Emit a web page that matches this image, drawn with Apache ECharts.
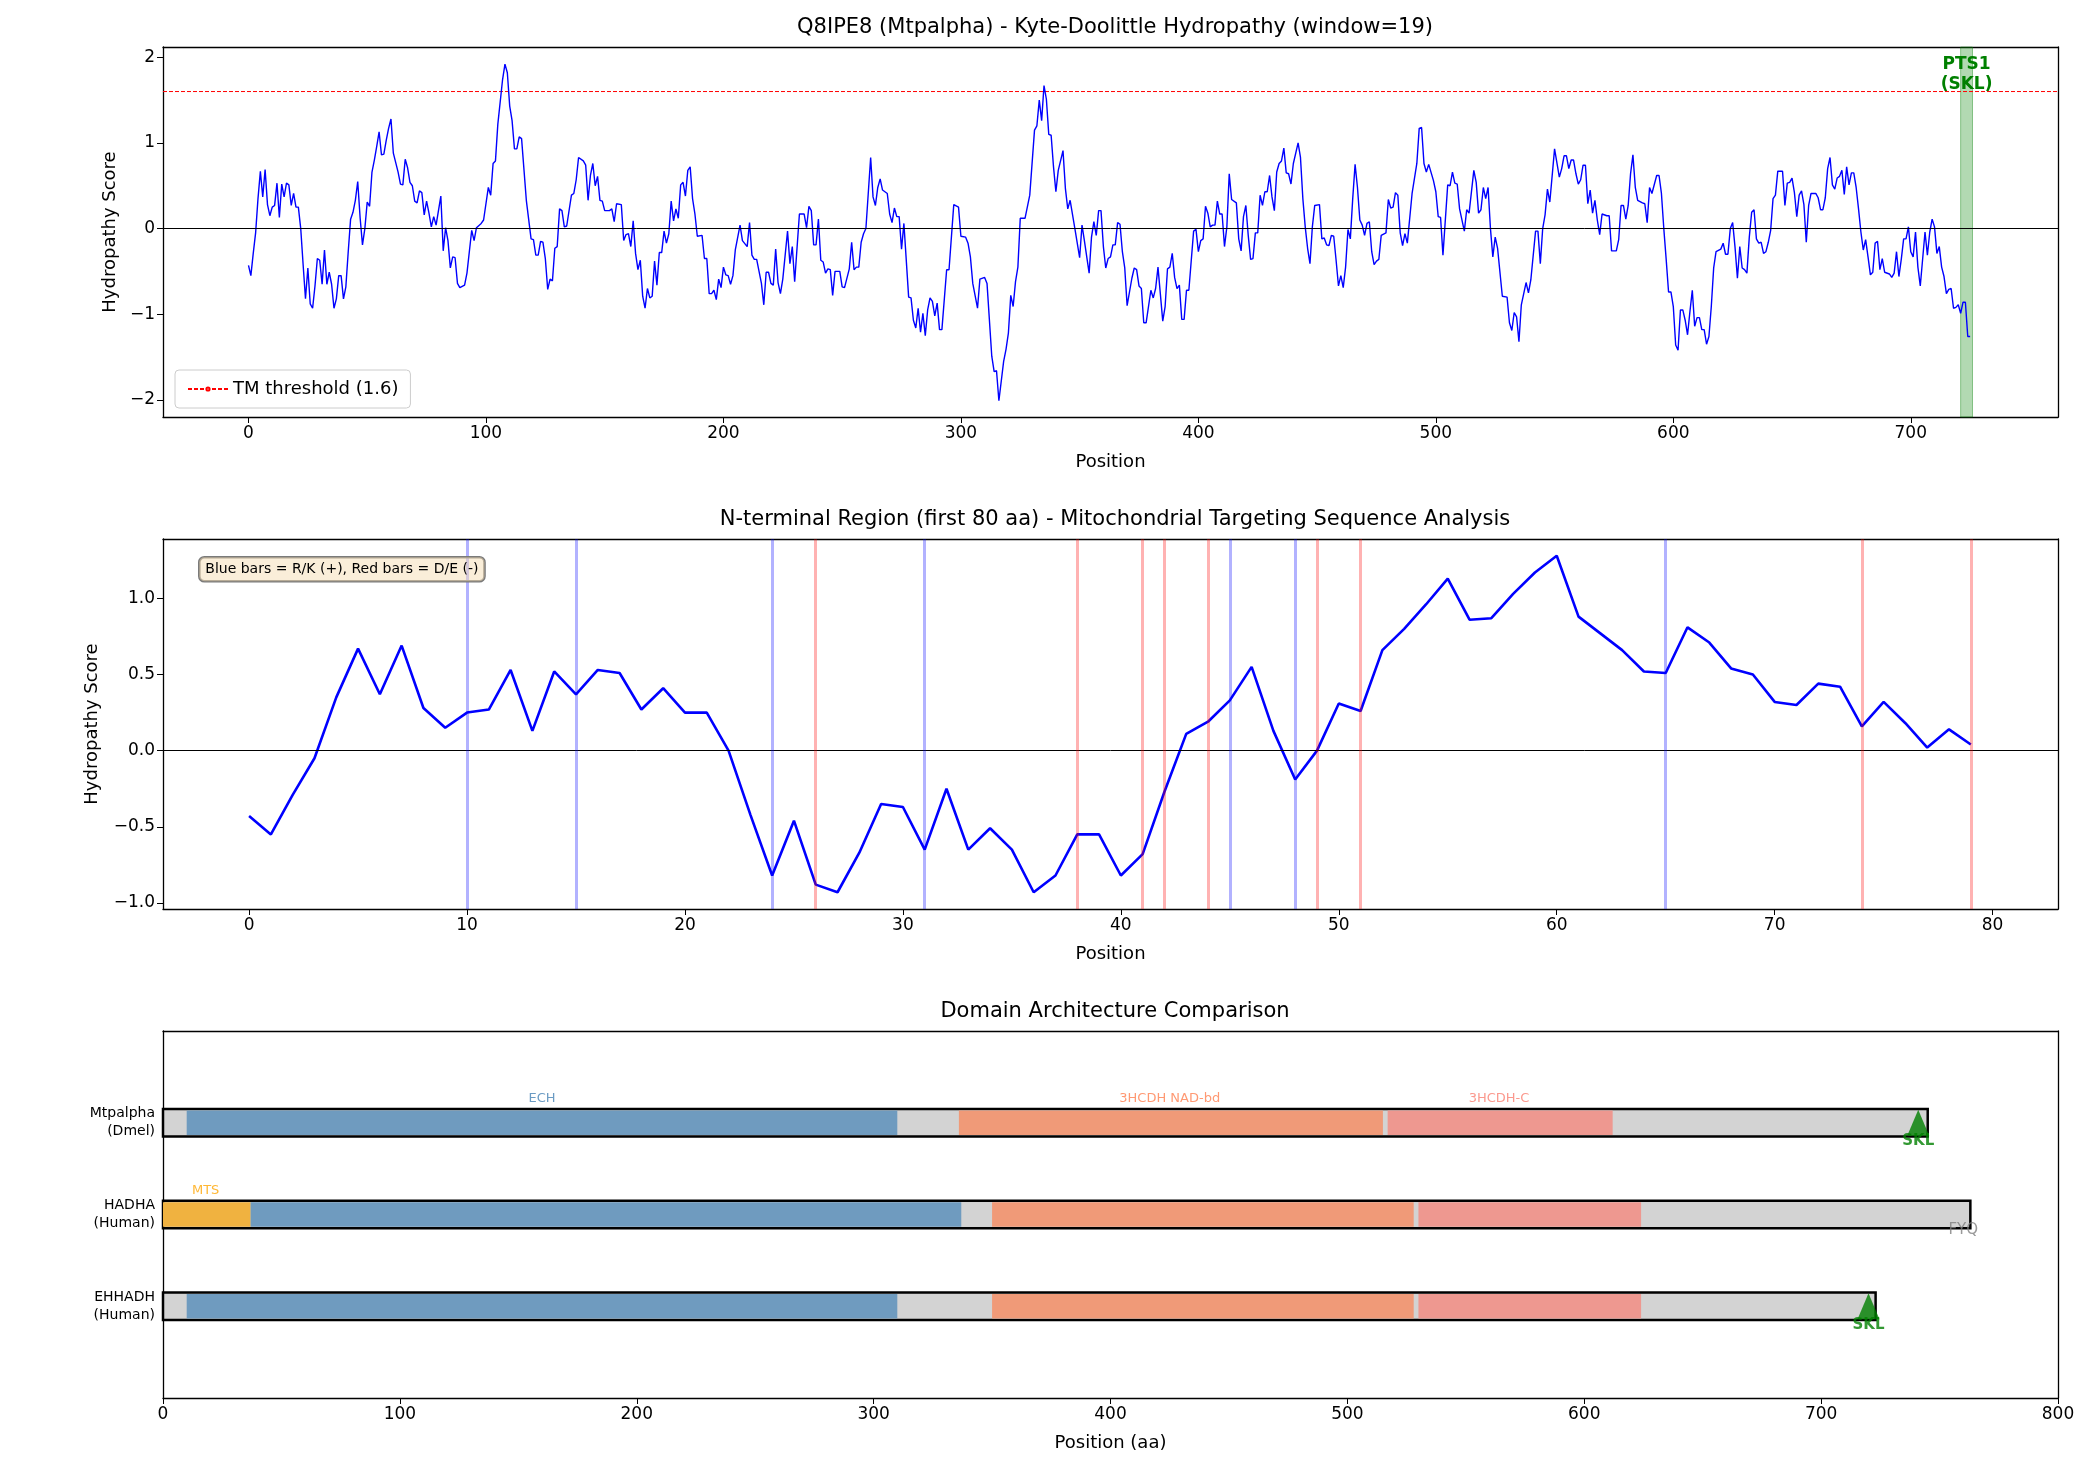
<!DOCTYPE html>
<html>
<head>
<meta charset="utf-8">
<script src="https://cdn.jsdelivr.net/npm/echarts@6/dist/echarts.min.js"></script>
<style>html,body{margin:0;background:#fff}#main{width:2094px;height:1481px}</style>
</head>
<body>
<div id="main"></div>
<script>
// N-terminal 80 aa hydropathy (also start of the full profile)
var ntermVals = [-0.43,-0.55,-0.29,-0.05,0.35,0.67,0.37,0.69,0.28,0.15,
  0.25,0.27,0.53,0.13,0.52,0.37,0.53,0.51,0.27,0.41,
  0.25,0.25,0.00,-0.42,-0.82,-0.46,-0.88,-0.93,-0.67,-0.35,
  -0.37,-0.65,-0.25,-0.65,-0.51,-0.65,-0.93,-0.82,-0.55,-0.55,
  -0.82,-0.68,-0.27,0.11,0.19,0.33,0.55,0.13,-0.19,0.00,
  0.31,0.26,0.66,0.80,0.96,1.13,0.86,0.87,1.03,1.17,
  1.28,0.88,0.77,0.66,0.52,0.51,0.81,0.71,0.54,0.50,
  0.32,0.30,0.44,0.42,0.16,0.32,0.18,0.02,0.14,0.04];

// rest of the profile, [position, score]
var hydroRest = [[81,0.38],[82,-0.26],[83,0.01],[84,-0.14],[85,-0.46],[86,-0.33],[87,-0.34],[88,-0.64],[89,-0.69],[91,-0.66],[92,-0.52],[94,-0.02],[95,-0.14],[96,0.01],[98,0.06],[99,0.10],[101,0.48],[102,0.39],[103,0.76],[104,0.79],[105,1.22],[107,1.74],[108,1.92],[109,1.82],[110,1.43],[111,1.26],[112,0.93],[113,0.93],[114,1.07],[115,1.05],[117,0.33],[119,-0.12],[120,-0.13],[121,-0.31],[122,-0.31],[123,-0.15],[124,-0.16],[125,-0.35],[126,-0.71],[127,-0.59],[128,-0.61],[129,-0.23],[130,-0.21],[131,0.23],[132,0.21],[133,0.02],[134,0.03],[136,0.39],[137,0.41],[138,0.57],[139,0.83],[141,0.79],[142,0.74],[143,0.33],[144,0.62],[145,0.76],[146,0.50],[147,0.61],[148,0.33],[149,0.32],[150,0.21],[151,0.21],[152,0.21],[153,0.23],[154,0.08],[155,0.29],[157,0.28],[158,-0.14],[159,-0.07],[160,-0.06],[161,-0.21],[162,0.09],[163,-0.29],[164,-0.48],[165,-0.37],[166,-0.79],[167,-0.93],[168,-0.70],[169,-0.81],[170,-0.79],[171,-0.38],[172,-0.66],[173,-0.28],[174,-0.28],[175,-0.03],[176,-0.17],[177,-0.06],[178,0.32],[179,0.09],[180,0.23],[181,0.12],[182,0.51],[183,0.54],[184,0.38],[185,0.68],[186,0.72],[187,0.35],[188,0.17],[189,-0.09],[191,-0.08],[192,-0.35],[193,-0.35],[194,-0.76],[195,-0.76],[196,-0.72],[197,-0.83],[198,-0.59],[199,-0.69],[200,-0.45],[201,-0.54],[202,-0.55],[203,-0.65],[204,-0.55],[205,-0.25],[207,0.04],[208,-0.14],[210,-0.21],[211,0.07],[212,-0.31],[213,-0.36],[214,-0.36],[216,-0.64],[217,-0.89],[218,-0.51],[219,-0.51],[220,-0.64],[221,-0.66],[222,-0.24],[223,-0.63],[224,-0.76],[225,-0.59],[227,-0.03],[228,-0.41],[229,-0.21],[230,-0.62],[232,0.17],[234,0.17],[235,0.01],[236,0.26],[237,0.21],[238,-0.19],[239,-0.19],[240,0.11],[241,-0.37],[242,-0.39],[243,-0.52],[244,-0.47],[245,-0.48],[246,-0.78],[247,-0.50],[249,-0.50],[250,-0.68],[251,-0.69],[253,-0.47],[254,-0.16],[255,-0.48],[256,-0.45],[257,-0.45],[258,-0.16],[259,-0.06],[260,0.00],[262,0.83],[263,0.37],[264,0.27],[265,0.48],[266,0.58],[267,0.45],[269,0.41],[270,0.17],[271,0.07],[272,0.24],[273,0.14],[274,0.14],[275,-0.24],[276,0.06],[278,-0.80],[279,-0.81],[280,-1.07],[281,-1.16],[282,-0.93],[283,-1.21],[284,-0.99],[285,-1.25],[286,-0.95],[287,-0.81],[288,-0.85],[289,-1.02],[290,-0.87],[291,-1.18],[292,-1.18],[294,-0.48],[295,-0.48],[297,0.28],[299,0.25],[300,-0.09],[302,-0.10],[303,-0.17],[304,-0.33],[305,-0.64],[307,-0.93],[308,-0.59],[310,-0.57],[311,-0.64],[313,-1.49],[314,-1.67],[315,-1.66],[316,-2.01],[318,-1.55],[319,-1.41],[320,-1.22],[321,-0.78],[322,-0.91],[323,-0.62],[324,-0.45],[325,0.12],[327,0.12],[329,0.39],[331,1.15],[332,1.20],[333,1.50],[334,1.26],[335,1.67],[336,1.51],[337,1.10],[338,1.09],[339,0.72],[340,0.43],[341,0.68],[343,0.91],[344,0.47],[345,0.23],[346,0.33],[348,0.00],[350,-0.34],[351,0.04],[352,-0.14],[354,-0.52],[355,-0.10],[356,0.08],[357,-0.08],[358,0.21],[359,0.21],[360,-0.21],[361,-0.46],[362,-0.35],[363,-0.33],[364,-0.19],[365,-0.19],[366,0.07],[367,0.05],[368,-0.27],[369,-0.46],[370,-0.90],[372,-0.58],[373,-0.46],[374,-0.48],[375,-0.67],[376,-0.70],[377,-1.10],[378,-1.10],[380,-0.72],[381,-0.81],[382,-0.70],[383,-0.45],[385,-1.08],[386,-0.91],[387,-0.47],[388,-0.45],[389,-0.29],[390,-0.57],[391,-0.70],[392,-0.66],[393,-1.06],[394,-1.06],[395,-0.72],[396,-0.72],[398,-0.03],[399,-0.01],[400,-0.27],[401,-0.14],[402,-0.12],[403,0.26],[404,0.18],[405,0.02],[406,0.04],[407,0.04],[408,0.32],[409,0.17],[410,0.17],[411,-0.21],[412,0.02],[413,0.64],[414,0.34],[416,0.30],[417,-0.12],[418,-0.26],[419,0.14],[420,0.27],[421,-0.08],[422,-0.36],[423,-0.35],[424,-0.05],[425,-0.05],[426,0.39],[427,0.27],[428,0.43],[429,0.43],[430,0.62],[431,0.37],[432,0.21],[433,0.66],[434,0.76],[435,0.79],[436,0.94],[437,0.65],[438,0.64],[439,0.52],[440,0.76],[442,1.00],[443,0.83],[444,0.35],[445,0.02],[446,-0.23],[447,-0.41],[448,0.02],[449,0.27],[451,0.28],[452,-0.12],[453,-0.11],[454,-0.19],[455,-0.20],[456,-0.08],[457,-0.09],[458,-0.37],[459,-0.67],[460,-0.55],[461,-0.69],[462,-0.45],[463,-0.01],[464,-0.12],[465,0.35],[466,0.75],[467,0.48],[468,0.10],[469,0.04],[470,-0.08],[471,0.06],[472,0.08],[473,-0.27],[474,-0.42],[475,-0.38],[476,-0.36],[477,-0.08],[479,-0.05],[480,0.34],[481,0.24],[482,0.25],[483,0.42],[484,0.39],[485,-0.05],[486,-0.20],[487,-0.06],[488,-0.17],[490,0.41],[492,0.76],[493,1.17],[494,1.18],[495,0.76],[496,0.66],[497,0.75],[499,0.56],[500,0.43],[501,0.14],[502,0.13],[503,-0.31],[505,0.51],[506,0.50],[507,0.66],[508,0.53],[509,0.52],[510,0.23],[512,-0.03],[513,0.22],[514,0.18],[516,0.68],[517,0.54],[518,0.18],[519,0.22],[520,0.48],[521,0.35],[522,0.48],[523,0.00],[524,-0.33],[525,-0.10],[526,-0.23],[528,-0.79],[530,-0.80],[531,-1.10],[532,-1.19],[533,-0.98],[534,-1.03],[535,-1.32],[536,-0.89],[538,-0.63],[539,-0.75],[540,-0.60],[542,-0.03],[543,-0.03],[544,-0.41],[545,0.00],[546,0.16],[547,0.46],[548,0.31],[550,0.93],[552,0.60],[553,0.70],[554,0.85],[555,0.85],[556,0.70],[557,0.80],[558,0.80],[559,0.64],[560,0.52],[561,0.57],[562,0.74],[563,0.74],[564,0.29],[565,0.45],[566,0.18],[567,0.33],[568,0.10],[569,-0.07],[570,0.17],[572,0.15],[573,0.15],[574,-0.26],[576,-0.26],[577,-0.13],[578,0.27],[579,0.27],[580,0.11],[581,0.27],[582,0.64],[583,0.86],[584,0.48],[585,0.33],[587,0.30],[588,0.29],[589,0.07],[590,0.48],[591,0.41],[593,0.62],[594,0.62],[595,0.41],[596,0.00],[597,-0.36],[598,-0.74],[599,-0.74],[600,-0.91],[601,-1.36],[602,-1.42],[603,-0.95],[604,-0.95],[605,-1.07],[606,-1.24],[607,-0.97],[608,-0.72],[609,-1.14],[610,-1.04],[611,-1.04],[612,-1.18],[613,-1.18],[614,-1.35],[615,-1.26],[616,-0.91],[617,-0.46],[618,-0.27],[620,-0.24],[621,-0.17],[622,-0.30],[623,-0.30],[624,0.00],[625,0.07],[626,-0.22],[627,-0.58],[628,-0.21],[629,-0.46],[630,-0.48],[631,-0.52],[632,-0.10],[633,0.19],[634,0.22],[635,-0.12],[636,-0.17],[637,-0.16],[638,-0.29],[639,-0.27],[640,-0.16],[641,-0.02],[642,0.35],[643,0.39],[644,0.67],[646,0.67],[647,0.27],[648,0.53],[649,0.54],[650,0.59],[651,0.42],[652,0.14],[653,0.39],[654,0.44],[655,0.28],[656,-0.16],[657,0.27],[658,0.41],[660,0.41],[661,0.36],[662,0.22],[663,0.22],[664,0.36],[665,0.70],[666,0.83],[667,0.51],[668,0.46],[669,0.59],[670,0.61],[671,0.68],[672,0.40],[673,0.72],[674,0.51],[675,0.65],[676,0.65],[677,0.48],[678,0.23],[679,-0.04],[680,-0.25],[681,-0.13],[682,-0.33],[683,-0.54],[684,-0.51],[685,-0.17],[686,-0.15],[687,-0.48],[688,-0.35],[689,-0.51],[691,-0.53],[692,-0.57],[693,-0.52],[694,-0.27],[695,-0.56],[696,-0.36],[697,-0.12],[698,-0.12],[699,0.02],[700,-0.27],[701,-0.33],[702,-0.04],[703,-0.45],[704,-0.67],[706,-0.04],[707,-0.31],[708,-0.04],[709,0.11],[710,0.02],[711,-0.29],[712,-0.21],[713,-0.45],[714,-0.56],[715,-0.76],[716,-0.71],[717,-0.70],[718,-0.93],[719,-0.92],[720,-0.89],[721,-0.99],[722,-0.86],[723,-0.86],[724,-1.26],[725,-1.26]];

var tmThreshold = 1.6;
var pts1Span = [721, 726];
var posCharged = [10, 15, 24, 31, 45, 48, 65];      // R/K
var negCharged = [26, 38, 41, 42, 44, 49, 51, 74, 79]; // D/E

var proteins = ['EHHADH\n(Human)', 'HADHA\n(Human)', 'Mtpalpha\n(Dmel)'];
var protLengths = [723, 763, 745];
// [start, end, row, type]
var domains = [
  [10, 310, 2, 'ECH'], [336, 515, 2, 'NAD'], [517, 612, 2, 'C'],
  [0, 37, 1, 'MTS'], [37, 337, 1, 'ECH'], [350, 528, 1, 'NAD'], [530, 624, 1, 'C'],
  [10, 310, 0, 'ECH'], [350, 528, 0, 'NAD'], [530, 624, 0, 'C']
];
var domainLabels = [[160, 2, 'ECH', 'ECH'], [425, 2, '3HCDH NAD-bd', 'NAD'], [564, 2, '3HCDH-C', 'C'], [18, 1, 'MTS', 'MTS']];
var sklSites = [[741, 2], [720, 0]];
var fyqSite = [760, 1];

var fillCol = {ECH: '#6f9bbf', NAD: '#f09a78', C: '#ee9890', MTS: '#f0b240'};
var textCol = {ECH: '#4682b4', NAD: '#ff7f50', C: '#fa8072', MTS: '#ffa500'};

var FONT = 'DejaVu Sans';
function fmt1(v) { return v.toFixed(1).replace('-', '\u2212'); }
function fmt0(v) { return String(v).replace('-', '\u2212'); }

var hydroAll = ntermVals.map(function (v, i) { return [i, v]; }).concat(hydroRest);

function frameAxes(grid, isX) {
  return {type: 'value', gridIndex: grid, position: isX ? 'top' : 'right', min: 'dataMin',
    axisLine: {show: true, onZero: false, lineStyle: {color: '#000', width: 1.3}},
    axisTick: {show: false}, axisLabel: {show: false}, splitLine: {show: false}};
}
var axisBase = {
  axisLine: {show: true, onZero: false, lineStyle: {color: '#000', width: 1.3}},
  axisTick: {show: true, length: 6, lineStyle: {color: '#000'}},
  splitLine: {show: false},
  nameLocation: 'middle',
  nameTextStyle: {fontFamily: FONT, fontSize: 18, color: '#000'}
};
function ax(o) { return Object.assign({}, JSON.parse(JSON.stringify(axisBase)), o); }

var chart = echarts.init(document.getElementById('main'));
chart.setOption({
  animation: false,
  textStyle: {fontFamily: FONT},
  title: [
    {text: 'Q8IPE8 (Mtpalpha) - Kyte-Doolittle Hydropathy (window=19)', left: 1110, top: 12, textAlign: 'center', textStyle: {fontSize: 21, fontWeight: 'normal', color: '#000'}},
    {text: 'N-terminal Region (first 80 aa) - Mitochondrial Targeting Sequence Analysis', left: 1110, top: 504, textAlign: 'center', textStyle: {fontSize: 21, fontWeight: 'normal', color: '#000'}},
    {text: 'Domain Architecture Comparison', left: 1110, top: 996, textAlign: 'center', textStyle: {fontSize: 21, fontWeight: 'normal', color: '#000'}}
  ],
  legend: {data: [{name: 'TM threshold (1.6)'}], left: 175, top: 370, orient: 'vertical',
    itemWidth: 40, itemHeight: 4, padding: [10, 12], borderColor: '#ccc', borderWidth: 1, borderRadius: 4,
    textStyle: {fontSize: 18, color: '#000'}},
  grid: [
    {left: 163, right: 36, top: 47, height: 370},
    {left: 163, right: 36, top: 539, height: 370},
    {left: 163, right: 36, top: 1031, height: 367}
  ],
  xAxis: [
    ax({type: 'value', gridIndex: 0, min: -36, max: 762, name: 'Position', nameGap: 36,
      axisTick: {show: true, length: 6, customValues: [0,100,200,300,400,500,600,700]},
      axisLabel: {fontSize: 17, color: '#000', customValues: [0,100,200,300,400,500,600,700]}}),
    ax({type: 'value', gridIndex: 1, min: -3.95, max: 83, name: 'Position', nameGap: 36,
      axisTick: {show: true, length: 6, customValues: [0,10,20,30,40,50,60,70,80]},
      axisLabel: {fontSize: 17, color: '#000', customValues: [0,10,20,30,40,50,60,70,80]}}),
    ax({type: 'value', gridIndex: 2, min: 0, max: 800, interval: 100, name: 'Position (aa)', nameGap: 36,
      axisLabel: {fontSize: 17, color: '#000'}}),
    frameAxes(0, true), frameAxes(1, true), frameAxes(2, true)
  ],
  yAxis: [
    ax({type: 'value', gridIndex: 0, min: -2.2, max: 2.12, name: 'Hydropathy Score', nameGap: 38,
      axisTick: {show: true, length: 6, customValues: [-2,-1,0,1,2]},
      axisLabel: {fontSize: 17, color: '#000', customValues: [-2,-1,0,1,2], formatter: fmt0}}),
    ax({type: 'value', gridIndex: 1, min: -1.04, max: 1.39, name: 'Hydropathy Score', nameGap: 62,
      axisTick: {show: true, length: 6, customValues: [-1,-0.5,0,0.5,1]},
      axisLabel: {fontSize: 17, color: '#000', customValues: [-1,-0.5,0,0.5,1], formatter: fmt1}}),
    ax({type: 'value', gridIndex: 2, min: -1, max: 3, interval: 1,
      axisTick: {show: false},
      axisLabel: {fontSize: 14, color: '#000', lineHeight: 18,
        formatter: function (v) { return proteins[v] || ''; }}}),
    frameAxes(0, false), frameAxes(1, false), frameAxes(2, false)
  ],
  series: [
    {type: 'line', name: 'hydro', xAxisIndex: 0, yAxisIndex: 0, data: hydroAll, showSymbol: false,
      lineStyle: {color: '#0000ff', width: 1.4}, z: 3,
      markLine: {silent: true, symbol: 'none', label: {show: false},
        data: [{yAxis: 0, lineStyle: {color: '#000', width: 1, type: 'solid'}}]},
      markArea: {silent: true, itemStyle: {color: 'rgba(0,128,0,0.3)', borderColor: 'rgba(0,128,0,0.4)', borderWidth: 1},
        label: {show: true, position: 'insideTop', distance: 8, color: '#008000', fontWeight: 'bold', fontSize: 17, lineHeight: 20},
        data: [[{xAxis: pts1Span[0], name: 'PTS1\n(SKL)'}, {xAxis: pts1Span[1]}]]}},
    {type: 'line', name: 'TM threshold (1.6)', xAxisIndex: 0, yAxisIndex: 0, showSymbol: false,
      data: [[-36, tmThreshold], [762, tmThreshold]], lineStyle: {color: '#ff0000', width: 1, type: [4, 2]},
      itemStyle: {color: '#ff0000'}, z: 2},
    {type: 'line', name: 'nterm', xAxisIndex: 1, yAxisIndex: 1, showSymbol: false, z: 3,
      data: ntermVals.map(function (v, i) { return [i, v]; }),
      lineStyle: {color: '#0000ff', width: 2.6},
      markLine: {silent: true, symbol: 'none', label: {show: false},
        data: [{yAxis: 0, lineStyle: {color: '#000', width: 1, type: 'solid'}}]
          .concat(posCharged.map(function (p) { return {xAxis: p, lineStyle: {color: 'rgba(0,0,255,0.3)', width: 3, type: 'solid'}}; }))
          .concat(negCharged.map(function (p) { return {xAxis: p, lineStyle: {color: 'rgba(255,0,0,0.3)', width: 3, type: 'solid'}}; }))}},
    {type: 'custom', name: 'proteins', xAxisIndex: 2, yAxisIndex: 2, z: 2,
      data: protLengths.map(function (L, r) { return [0, L, r]; }),
      renderItem: function (params, api) {
        var p0 = api.coord([api.value(0), api.value(2)]);
        var p1 = api.coord([api.value(1), api.value(2)]);
        var h = api.size([0, 0.3])[1];
        return {type: 'rect', shape: {x: p0[0], y: p0[1] - h / 2, width: p1[0] - p0[0], height: h},
          style: {fill: '#d3d3d3', stroke: '#000', lineWidth: 2.5}};
      }},
    {type: 'custom', name: 'domains', xAxisIndex: 2, yAxisIndex: 2, z: 3,
      data: domains,
      renderItem: function (params, api) {
        var d = domains[params.dataIndex];
        var p0 = api.coord([d[0], d[2]]);
        var p1 = api.coord([d[1], d[2]]);
        var h = api.size([0, 0.3])[1] - 3;
        return {type: 'rect', shape: {x: p0[0], y: p0[1] - h / 2, width: p1[0] - p0[0], height: h},
          style: {fill: fillCol[d[3]]}};
      }},
    {type: 'scatter', xAxisIndex: 2, yAxisIndex: 2, symbolSize: 0, z: 4, silent: true,
      data: domainLabels.map(function (l) { return {value: [l[0], l[1] + 0.15], name: l[2],
        label: {color: textCol[l[3]]}}; }),
      label: {show: true, position: 'top', distance: 4, fontSize: 13, formatter: '{b}'}},
    {type: 'scatter', xAxisIndex: 2, yAxisIndex: 2, symbol: 'triangle', symbolSize: [22, 26], z: 5,
      itemStyle: {color: '#008000'}, data: sklSites,
      label: {show: true, position: 'bottom', distance: -2, formatter: 'SKL', color: '#008000', fontWeight: 'bold', fontSize: 15}},
    {type: 'scatter', xAxisIndex: 2, yAxisIndex: 2, symbolSize: 0, z: 5, data: [fyqSite],
      label: {show: true, position: 'bottom', distance: 8, formatter: 'FYQ', color: '#808080', fontSize: 15}}
  ],
  graphic: [
    {type: 'text', left: 198, top: 556, z: 10,
      style: {text: 'Blue bars = R/K (+), Red bars = D/E (-)', font: '14px "DejaVu Sans"', fill: '#000',
        backgroundColor: 'rgba(245,222,179,0.5)', borderColor: '#7a7a7a', borderWidth: 1.3, borderRadius: 5, padding: [5, 6]}}
  ]
});
</script>
</body>
</html>
